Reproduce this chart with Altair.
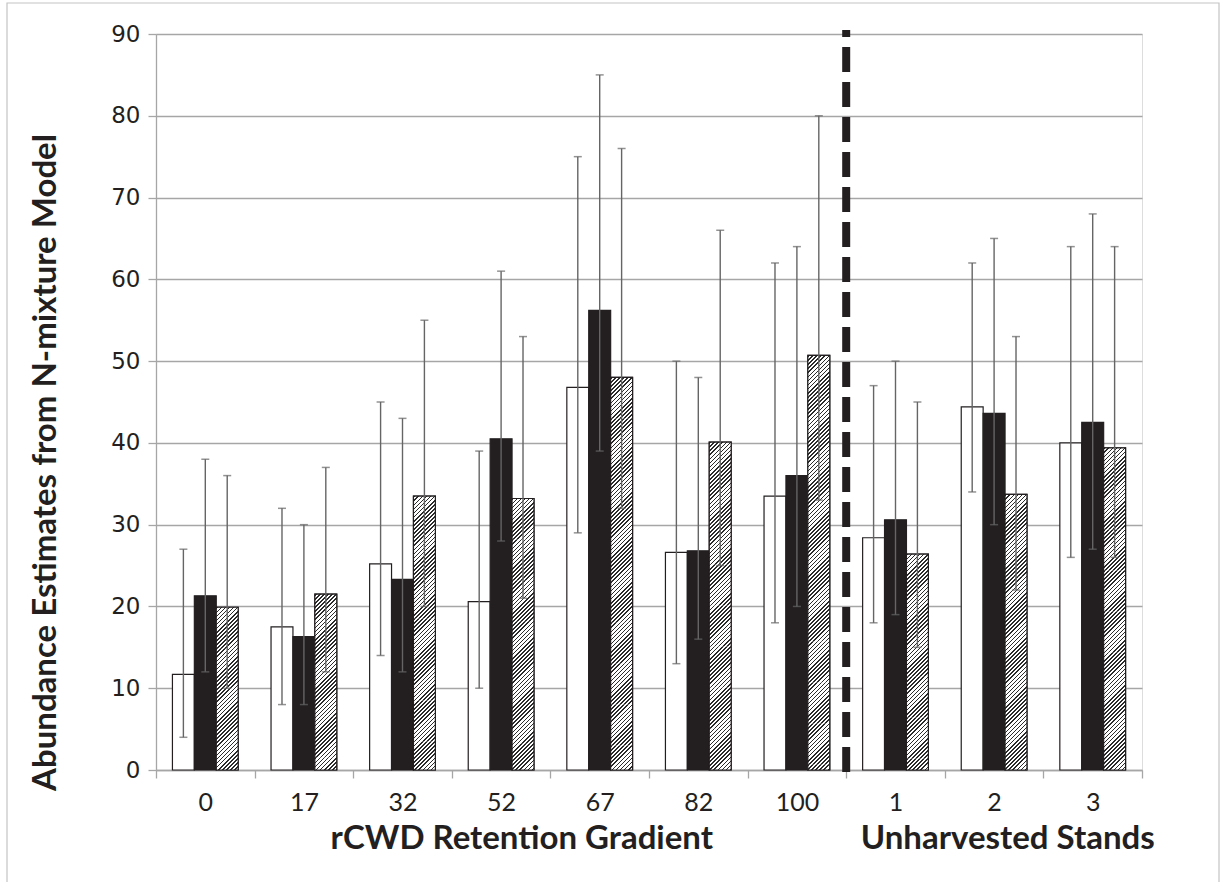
import math
import altair as alt
import pandas as pd

# Plot-area size in pixels and the y range
PLOT_W = 986
PLOT_H = 736
Y_MAX = 90

# Stand categories along the x axis
groups = ["0", "17", "32", "52", "67", "82", "100", "1", "2", "3"]
series = ["Series 1", "Series 2", "Series 3"]

# Abundance estimates and their confidence limits, one list per series
est_1 = [11.7, 17.5, 25.2, 20.6, 46.8, 26.6, 33.5, 28.4, 44.4, 40.0]
low_1 = [4, 8, 14, 10, 29, 13, 18, 18, 34, 26]
high_1 = [27, 32, 45, 39, 75, 50, 62, 47, 62, 64]

est_2 = [21.3, 16.3, 23.3, 40.5, 56.2, 26.8, 36.0, 30.6, 43.6, 42.5]
low_2 = [12, 8, 12, 28, 39, 16, 20, 19, 30, 27]
high_2 = [38, 30, 43, 61, 85, 48, 64, 50, 65, 68]

est_3 = [19.9, 21.5, 33.5, 33.2, 48.0, 40.1, 50.7, 26.4, 33.7, 39.4]
low_3 = [10, 12, 20, 21, 32, 25, 33, 15, 22, 26]
high_3 = [36, 37, 55, 53, 76, 66, 80, 45, 53, 64]

ests = [est_1, est_2, est_3]
lows = [low_1, low_2, low_3]
highs = [high_1, high_2, high_3]

rows = []
for s_idx, s in enumerate(series):
    for g_idx, g in enumerate(groups):
        rows.append({
            "group": g,
            "series": s,
            "est": ests[s_idx][g_idx],
            "low": lows[s_idx][g_idx],
            "high": highs[s_idx][g_idx],
        })
df = pd.DataFrame(rows)

# Hatch fill for the third series: the bar is split into tiles of equal
# height, each filled with the same striped gradient so the stripes line up.
TILE = 5
tile_rows = []
for g, v in zip(groups, est_3):
    for k in range(math.ceil(v / TILE)):
        top = v - k * TILE
        tile_rows.append({"group": g, "series": series[2], "top": top, "bottom": top - TILE})
tiles = pd.DataFrame(tile_rows)

OFFSET_PAD = 0.75
bar_w = (PLOT_W / len(groups)) / (3 + 2 * OFFSET_PAD)
tile_h = TILE * PLOT_H / Y_MAX


def hatch_gradient(w, h, ink="#2b2b2b", paper="#ffffff", thick=1.6):
    n = max(1, round(h / 4.1))
    period = h / n
    span = w + h
    c = span / (w * w + h * h)
    stops = [{"offset": 0, "color": paper}]
    a = 0.4
    while a < span:
        b = min(a + thick, span)
        stops += [
            {"offset": a / span, "color": paper},
            {"offset": a / span, "color": ink},
            {"offset": b / span, "color": ink},
            {"offset": b / span, "color": paper},
        ]
        a += period
    stops.append({"offset": 1, "color": paper})
    return {"gradient": "linear", "x1": 0, "y1": 0, "x2": c * w, "y2": c * h, "stops": stops}


GRID = "#a6a6a6"
INK = "#231f20"
WHISKER = "#656565"

y_scale = alt.Scale(domain=[0, Y_MAX], nice=False, zero=True)
x_scale = alt.Scale(domain=groups, paddingInner=0, paddingOuter=0)
x_axis = alt.Axis(
    title=None, labelAngle=0, tickBand="extent", grid=False,
    domainColor=GRID, domainWidth=1.3, tickColor=GRID, tickWidth=1.3, tickSize=8,
    labelFont="Lato", labelFontSize=25, labelColor=INK, labelPadding=12,
)
X = alt.X("group:N", scale=x_scale, sort=groups, axis=x_axis)
XO = alt.XOffset(
    "series:N",
    scale=alt.Scale(domain=series, paddingInner=0, paddingOuter=OFFSET_PAD),
    sort=series,
)
y_axis = alt.Axis(
    title="Abundance Estimates from N-mixture Model",
    values=list(range(0, Y_MAX + 1, 10)),
    grid=True, gridColor=GRID, gridWidth=1.3,
    domainColor=GRID, domainWidth=1.3, tickColor=GRID, tickWidth=1.3, tickSize=8,
    labelFont="DejaVu Sans", labelFontSize=23, labelColor=INK, labelPadding=8,
    titleFont="Lato", titleFontSize=33, titleFontWeight="bold", titleColor=INK,
    titleAngle=270, titleAlign="center", titleBaseline="middle",
    titleX=-111, titleY=428,
)

bars = alt.Chart(df).mark_bar(stroke=INK, strokeWidth=1.2).encode(
    x=X,
    xOffset=XO,
    y=alt.Y("est:Q", scale=y_scale, axis=y_axis),
    fill=alt.Fill(
        "series:N",
        scale=alt.Scale(domain=series, range=["#ffffff", INK, "#ffffff"]),
        legend=None,
    ),
)

hatch = alt.Chart(tiles).mark_bar(
    fill=hatch_gradient(bar_w, tile_h), strokeWidth=0, clip=True
).encode(
    x=X,
    xOffset=XO,
    y=alt.Y("top:Q", scale=y_scale),
    y2="bottom:Q",
)

outline = alt.Chart(df[df["series"] == series[2]]).mark_bar(
    fillOpacity=0, stroke=INK, strokeWidth=1.2
).encode(
    x=X,
    xOffset=XO,
    y=alt.Y("est:Q", scale=y_scale),
)

whisker = alt.Chart(df).mark_rule(color=WHISKER, strokeWidth=1.4).encode(
    x=X,
    xOffset=XO,
    y=alt.Y("low:Q", scale=y_scale),
    y2="high:Q",
)

cap_low = alt.Chart(df).mark_tick(
    color=WHISKER, orient="horizontal", size=8, thickness=1.5
).encode(x=X, xOffset=XO, y=alt.Y("low:Q", scale=y_scale))

cap_high = alt.Chart(df).mark_tick(
    color=WHISKER, orient="horizontal", size=8, thickness=1.5
).encode(x=X, xOffset=XO, y=alt.Y("high:Q", scale=y_scale))

# Dashed divider between the retention gradient and the unharvested stands
divider_df = pd.DataFrame({"group": [groups[7]], "top": [Y_MAX + 0.5], "bottom": [-0.6]})
divider = alt.Chart(divider_df).mark_rule(
    color=INK, strokeWidth=8, strokeDash=[25, 10], strokeDashOffset=18
).encode(
    x=alt.X("group:N", scale=x_scale, sort=groups, axis=x_axis, bandPosition=0),
    y=alt.Y("top:Q", scale=y_scale),
    y2="bottom:Q",
)

# Section titles under the category labels (offset from the band's left edge)
sections = pd.DataFrame({
    "group": ["52", "2"],
    "label": ["rCWD Retention Gradient", "Unharvested Stands"],
    "shift": [70, 63],
})
section_text = alt.Chart(sections).mark_text(
    font="Lato", fontSize=33, fontWeight="bold", color=INK,
    baseline="alphabetic", align="center",
).encode(
    x=X,
    xOffset=alt.XOffset("shift:Q", scale=None),
    y=alt.value(815),
    text="label:N",
)

frame = alt.Chart(pd.DataFrame({"k": [0]})).mark_rect(
    fillOpacity=0, stroke="#c4c4c4", strokeWidth=1.2
).encode(
    x=alt.value(-149), x2=alt.value(1063), y=alt.value(-31), y2=alt.value(860),
)

chart = alt.layer(
    bars, hatch, outline, whisker, cap_low, cap_high, divider, section_text, frame
).properties(
    width=PLOT_W,
    height=PLOT_H,
    autosize=alt.AutoSizeParams(type="none"),
    padding={"left": 156, "top": 34, "right": 85, "bottom": 112},
).configure_view(strokeWidth=0).configure(background="#ffffff")

chart.save("out.html", embed_options={"renderer": "svg", "actions": False})
